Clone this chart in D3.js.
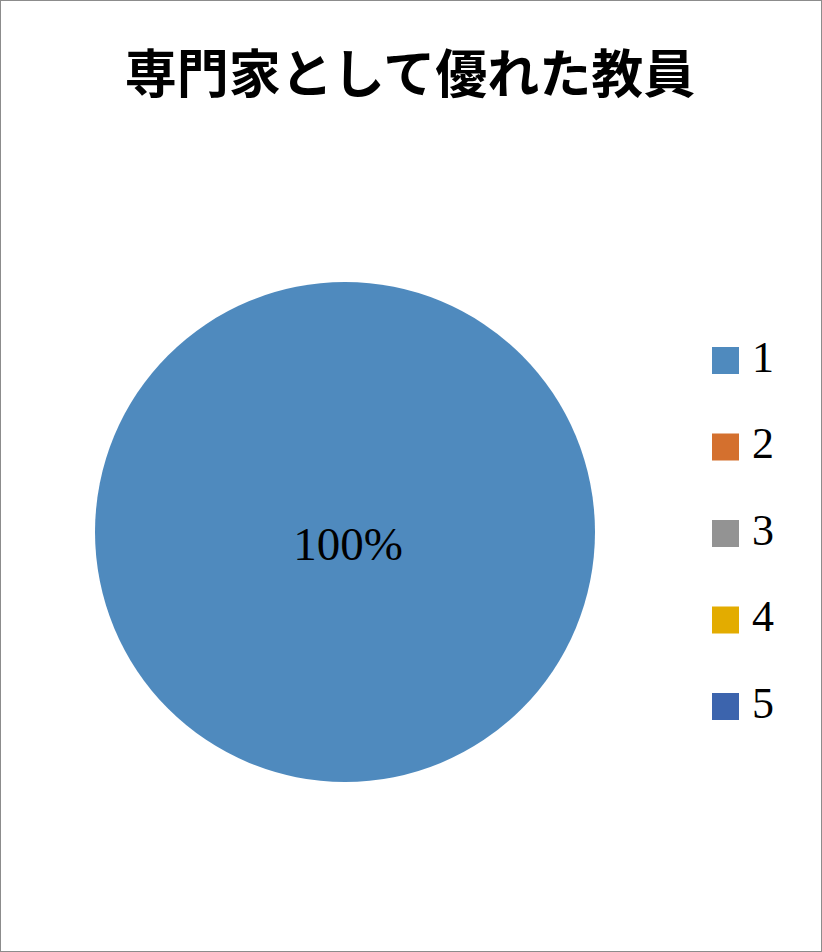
<!DOCTYPE html>
<html>
<head>
<meta charset="utf-8">
<script src="https://cdn.jsdelivr.net/npm/d3@7"></script>
<style>
  html, body { margin: 0; padding: 0; background: #fff; }
</style>
</head>
<body>
<div id="chart"></div>
<script>
    // chart data
    var title = "専門家として優れた教員";
    var categories = ["1", "2", "3", "4", "5"];
    var values = [100, 0, 0, 0, 0];
    var colors = ["#4F8ABE", "#D4702E", "#939393", "#E3AC00", "#3C64AD"];

    var width = 822, height = 952;
    var cx = 345, cy = 532, radius = 250;

    var svg = d3.select("#chart").append("svg")
        .attr("width", width).attr("height", height);

    // outer frame
    svg.append("rect")
        .attr("x", 0.5).attr("y", 0.5)
        .attr("width", width - 1).attr("height", height - 1)
        .attr("fill", "#fff").attr("stroke", "#8c8c8c").attr("stroke-width", 1);

    svg.append("text")
        .attr("x", 410).attr("y", 93)
        .attr("text-anchor", "middle")
        .style("font-family", "'Noto Sans CJK JP', sans-serif")
        .style("font-weight", "bold")
        .style("font-size", "52px")
        .text(title);

    var color = d3.scaleOrdinal().domain(categories).range(colors);
    var total = d3.sum(values);

    var pie = d3.pie().sort(null).value(function (d) { return d.value; });
    var arcs = pie(categories.map(function (c, i) { return { name: c, value: values[i] }; }));
    var arc = d3.arc().innerRadius(0).outerRadius(radius);

    var g = svg.append("g").attr("transform", "translate(" + cx + "," + cy + ")");
    g.selectAll("path").data(arcs.filter(function (d) { return d.value > 0; }))
        .enter().append("path")
        .attr("d", arc)
        .attr("fill", function (d) { return color(d.data.name); });

    /* label at centroid; a full circle puts it near the center */
    g.selectAll("text.lbl").data(arcs.filter(function (d) { return d.value > 0; }))
        .enter().append("text").attr("class", "lbl")
        .attr("transform", function (d) {
            if (d.endAngle - d.startAngle >= 2 * Math.PI - 1e-6) return "translate(3,12)";
            return "translate(" + d3.arc().innerRadius(radius * 0.6).outerRadius(radius * 0.6).centroid(d) + ")";
        })
        .attr("dy", "0.35em")
        .attr("text-anchor", "middle")
        .style("font-family", "'Liberation Serif', serif")
        .style("font-size", "47px")
        .text(function (d) { return Math.round(d.value / total * 100) + "%"; });

    // legend
    var legend = svg.append("g").attr("transform", "translate(712,347)");
    var item = legend.selectAll("g").data(categories).enter().append("g")
        .attr("transform", function (d, i) { return "translate(0," + (i * 86.5) + ")"; });
    item.append("rect")
        .attr("width", 27).attr("height", 27)
        .attr("fill", function (d) { return color(d); });
    item.append("text")
        .attr("x", 40).attr("y", 13.5).attr("dy", "0.25em")
        .style("font-family", "'Liberation Serif', serif")
        .style("font-size", "44px")
        .text(function (d) { return d; });
</script>
</body>
</html>
